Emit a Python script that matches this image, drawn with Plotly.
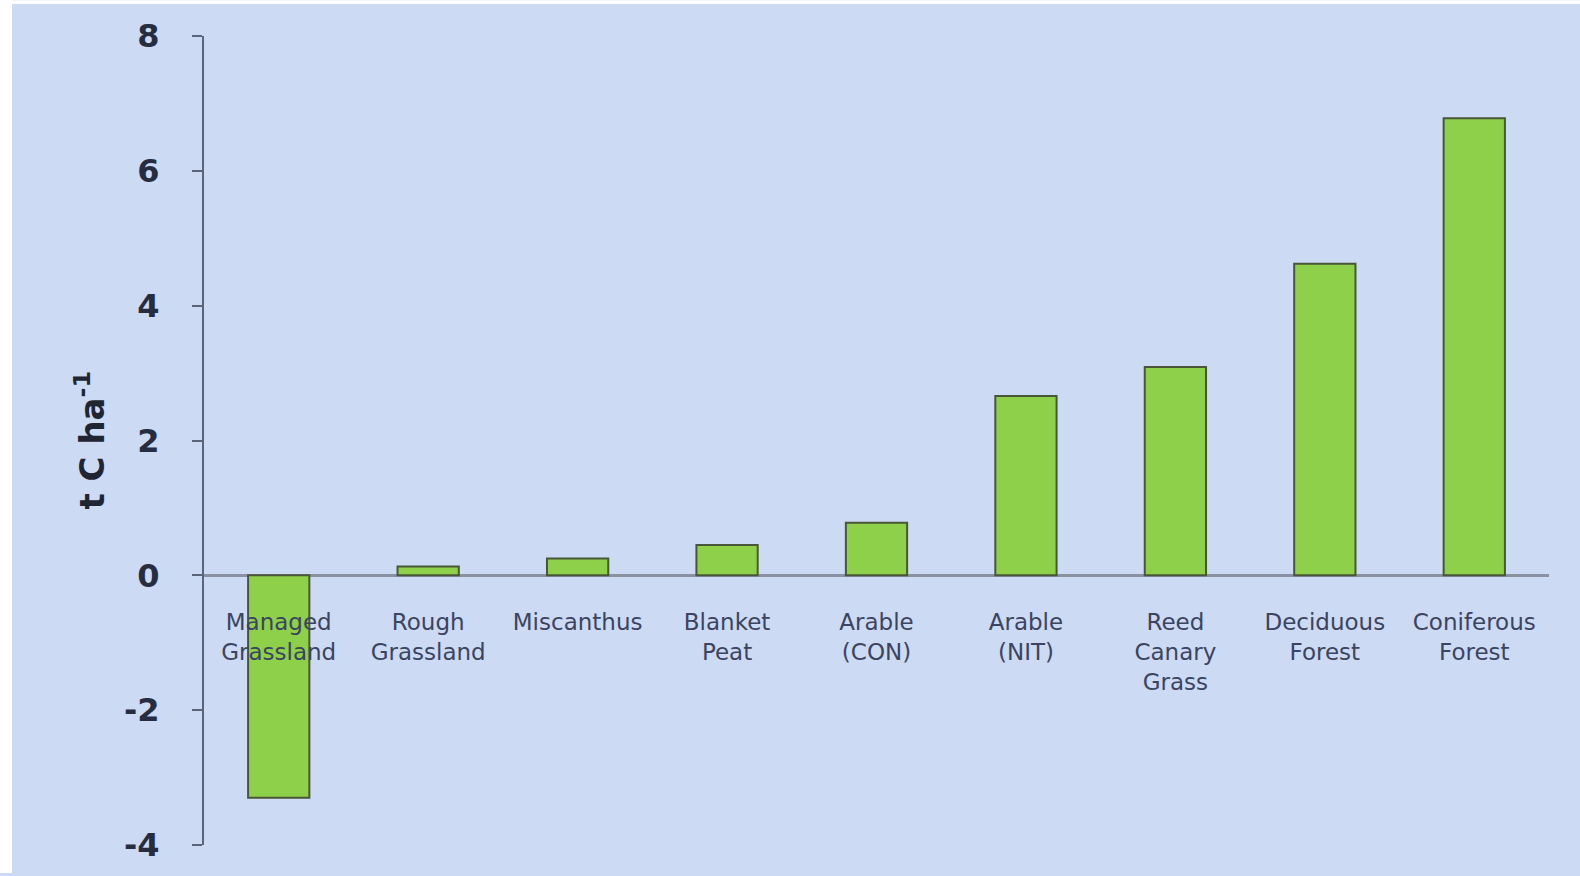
import plotly.graph_objects as go

# Land-use categories and their carbon values (t C per hectare)
categories = [
    "Managed<br>Grassland",
    "Rough<br>Grassland",
    "Miscanthus",
    "Blanket<br>Peat",
    "Arable<br>(CON)",
    "Arable<br>(NIT)",
    "Reed<br>Canary<br>Grass",
    "Deciduous<br>Forest",
    "Coniferous<br>Forest",
]
values = [-3.3, 0.13, 0.25, 0.45, 0.78, 2.66, 3.09, 4.62, 6.78]
y_ticks = [-4, -2, 0, 2, 4, 6, 8]
y_tick_text = ["-4", "-2", "0", "2", "4", "6", "8"]

W, H = 1580, 876
ML, MR, MT, MB = 204, 31, 36, 28
plot_w = W - ML - MR
plot_h = H - MT - MB

def px_x(p):
    return (p - ML) / plot_w

def px_y(p):
    return (H - MB - p) / plot_h

fig = go.Figure()
fig.add_trace(go.Bar(
    x=categories,
    y=values,
    width=0.41,
    marker=dict(color="#8ed04a", line=dict(color="#4a5638", width=2)),
))

axis_col = "#5b6478"
bg = "#ccdaf3"
fig.update_layout(
    width=W,
    height=H,
    margin=dict(l=ML, r=MR, t=MT, b=MB),
    paper_bgcolor=bg,
    plot_bgcolor="rgba(0,0,0,0)",
    showlegend=False,
    font=dict(family="DejaVu Sans", color="#2d3448"),
    xaxis=dict(
        anchor="free",
        position=4 / 12,
        showline=False,
        showgrid=False,
        ticks="",
        ticklabelstandoff=31,
        tickfont=dict(size=23, color="#3b4460"),
    ),
    yaxis=dict(
        range=[-4, 8],
        tickvals=y_ticks,
        ticktext=y_tick_text,
        showgrid=False,
        showline=True,
        linecolor=axis_col,
        linewidth=2,
        ticks="outside",
        ticklen=10,
        tickwidth=1.5,
        tickcolor=axis_col,
        ticklabelstandoff=26,
        tickfont=dict(size=32, color="#262d40", weight="bold"),
        zeroline=True,
        zerolinecolor="#8a91a2",
        zerolinewidth=3,
    ),
    shapes=[
        # white frame strips along the left and top edges
        dict(type="rect", xref="paper", yref="paper", layer="below",
             x0=px_x(0), x1=px_x(12), y0=px_y(H), y1=px_y(0),
             fillcolor="white", line=dict(width=0)),
        dict(type="rect", xref="paper", yref="paper", layer="below",
             x0=px_x(0), x1=px_x(W), y0=px_y(4), y1=px_y(0),
             fillcolor="white", line=dict(width=0)),
    ],
    annotations=[dict(
        text="<b>t C ha<sup>-1</sup></b>",
        xref="paper", yref="paper",
        x=px_x(89), y=px_y(442),
        xanchor="center", yanchor="middle",
        textangle=-90, showarrow=False,
        font=dict(size=34, color="#1f2533", family="DejaVu Sans"),
    )],
)

fig.write_html("out.html")
